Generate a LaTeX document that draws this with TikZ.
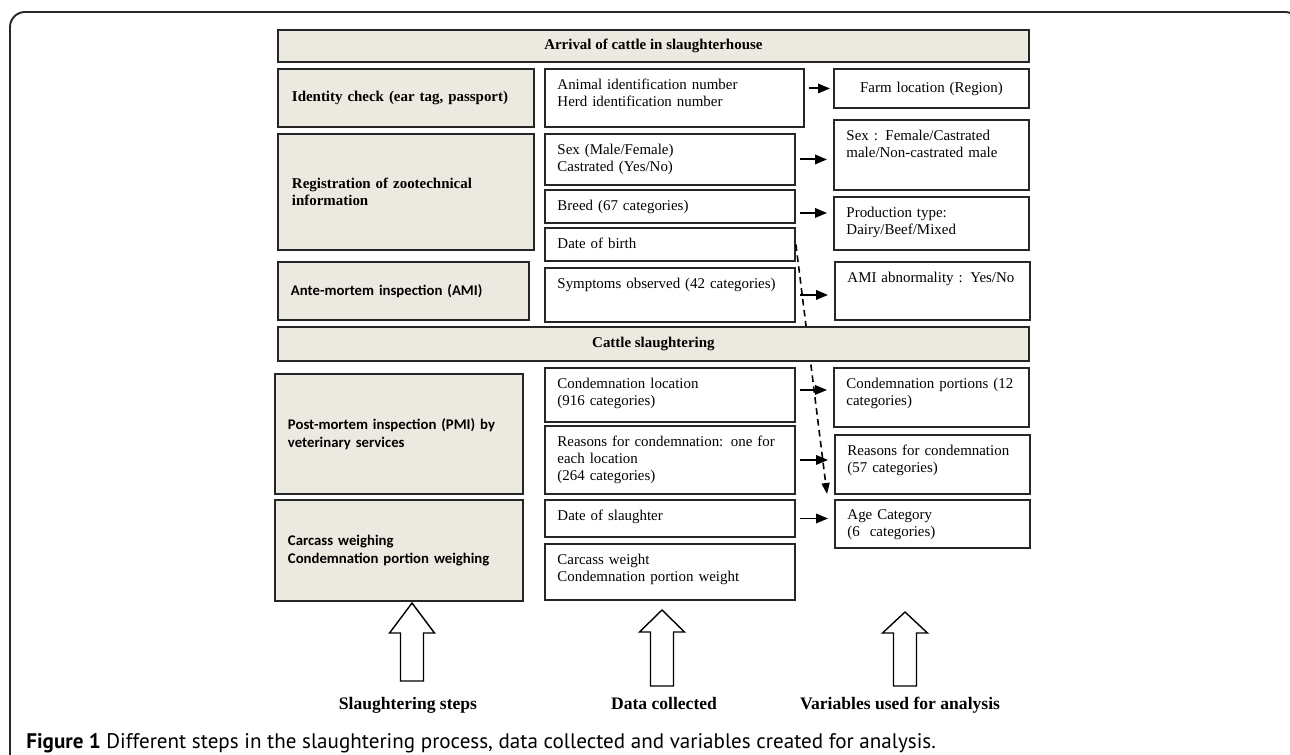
\documentclass[tikz,border=0pt]{standalone}
\usepackage{fontspec}
\setmainfont{Liberation Serif}
\setsansfont{Carlito}
\newfontfamily\capfont{PT Sans}
\usetikzlibrary{arrows.meta}

\definecolor{stepfill}{RGB}{236,234,224}
\definecolor{framegray}{RGB}{40,40,40}

% text starting at the top of a box of fixed height
\newcommand{\boxtext}[2]{\parbox[c][#1][t]{\linewidth}{\vspace*{0.2cm}#2}}

\tikzset{
  stepbox/.style={draw=black!85, line width=1.1pt, fill=stepfill, anchor=north west, align=left,
    inner xsep=0.28cm, inner ysep=0pt, font=\bfseries\fontsize{8.5}{10}\selectfont},
  stepbar/.style={stepbox, align=center, minimum width=15.02cm},
  stepsans/.style={stepbox, inner xsep=0.26cm, font=\sffamily\bfseries\fontsize{8.4}{10.2}\selectfont},
  databox/.style={draw=black!85, line width=1.1pt, anchor=north west, align=left,
    inner xsep=0.25cm, inner ysep=0pt, text width=4.5cm},
  varbox/.style={databox, text width=3.4cm},
  arr/.style={-{Triangle[length=0.24cm, width=0.19cm]}, line width=1.1pt,
    shorten <=0.08cm, shorten >=0.12cm},
  dasharr/.style={-{Triangle[length=0.22cm, width=0.16cm]}, line width=0.9pt,
    dash pattern=on 0.13cm off 0.09cm},
  hollow/.style={draw, line width=0.8pt, fill=white},
  legend/.style={anchor=base, font=\bfseries\fontsize{10}{12}\selectfont}
}

\begin{document}
\begin{tikzpicture}[x=0.02cm, y=-0.02cm, every node/.style={font=\fontsize{8.5}{9.7}\selectfont}]
  \useasboundingbox (0,0) rectangle (1290,754);
  \clip (0,0) rectangle (1290,754);
  \draw[framegray, line width=1.1pt, rounded corners=0.3cm] (10,780) -- (10,12) -- (1300,12) -- (1300,780);

  % slaughtering steps
  \node[stepbar, minimum height=0.64cm] (arrive) at (277,29) {Arrival of cattle in slaughterhouse};
  \node[stepbox, text width=4.56cm, minimum height=1.16cm] (ident) at (277,68) {Identity check (ear tag, passport)};
  \node[stepbox, text width=4.56cm, minimum height=2.32cm] (regist) at (277,133) {Registration of zootechnical\\information};
  \node[stepsans, text width=4.5cm, minimum height=1.16cm] (ami) at (277,261) {Ante-mortem inspection (AMI)};
  \node[stepsans, text width=4.44cm, minimum height=2.4cm] (pmi) at (274,373) {Post-mortem inspection (PMI) by\\veterinary services};
  \node[stepsans, text width=4.44cm, minimum height=2.02cm] (weigh) at (274,499) {Carcass weighing\\Condemnation portion weighing};

  % data collected
  \node[databox, text width=4.68cm] (animal) at (544,68) {\boxtext{1.16cm}{Animal identification number\\Herd identification number}};
  \node[databox] (sexdata) at (544,133) {\boxtext{1.02cm}{Sex (Male/Female)\\Castrated (Yes/No)}};
  \node[databox] (breed) at (544,189) {\boxtext{0.66cm}{Breed (67 categories)}};
  \node[databox] (dob) at (544,227) {\boxtext{0.66cm}{Date of birth}};
  \node[databox] (symp) at (544,267) {\boxtext{1.08cm}{Symptoms observed (42 categories)}};
  \node[databox] (condloc) at (544,367) {\boxtext{1.08cm}{Condemnation location\\(916 categories)}};
  \node[databox] (reason) at (544,425) {\boxtext{1.36cm}{Reasons for condemnation: one for\\each location\\(264 categories)}};
  \node[databox] (slaughterdate) at (544,499) {\boxtext{0.74cm}{Date of slaughter}};
  \node[databox] (weight) at (544,543) {\boxtext{1.12cm}{Carcass weight\\Condemnation portion weight}};

  % variables used for analysis
  \node[varbox, align=center, minimum height=0.78cm] (farm) at (833,68) {Farm location (Region)};
  \node[varbox] (sexvar) at (833,119) {\boxtext{1.4cm}{Sex : Female/Castrated\\male/Non-castrated male}};
  \node[varbox] (prod) at (833,196) {\boxtext{1.06cm}{Production type:\\Dairy/Beef/Mixed}};
  \node[varbox] (amiabn) at (834,261) {\boxtext{1.16cm}{AMI abnormality : Yes/No}};
  \node[varbox] (portions) at (833,367) {\boxtext{1.18cm}{Condemnation portions (12\\categories)}};
  \node[varbox] (reasonvar) at (834,434) {\boxtext{1.18cm}{Reasons for condemnation\\(57 categories)}};
  \node[varbox] (age) at (834,499) {\boxtext{0.96cm}{Age Category\\(6~ categories)}};

  % age from date of birth, behind the slaughtering bar
  \coordinate (ageend) at (827,494);
  \draw[dasharr] (dob.east) -- (ageend);

  \node[stepbar, minimum height=0.68cm] (cattle) at (277,326) {Cattle slaughtering};

  \coordinate (breedout) at ([yshift=-0.13cm]breed.east);
  \coordinate (condout) at ([yshift=0.1cm]condloc.east);
  \draw[arr, shorten >=0.06cm] (animal.east |- farm.west) -- (farm.west);
  \draw[arr] (sexdata.east) -- (sexdata.east -| sexvar.west);
  \draw[arr] (breedout) -- (breedout -| prod.west);
  \draw[arr] (symp.east) -- (symp.east -| amiabn.west);
  \draw[arr] (condout) -- (condout -| portions.west);
  \draw[arr] (reason.east) -- (reason.east -| reasonvar.west);
  \draw[arr] (slaughterdate.east) -- (slaughterdate.east -| age.west);

  % big hollow arrows
  \foreach \x/\t/\b/\e in {412/603/633/681, 662/610/632/686, 905/612/633/686}
    \draw[hollow] (\x-11.5,\e) -- (\x-11.5,\b) -- (\x-22.5,\b) -- (\x,\t) -- (\x+22.5,\b) -- (\x+11.5,\b) -- (\x+11.5,\e) -- cycle;

  \node[legend] (stepslbl) at (408,709) {Slaughtering steps};
  \node[legend] (datalbl) at (664,709) {Data collected};
  \node[legend] (varlbl) at (900,709) {Variables used for analysis};

  \node[anchor=base west, inner sep=0pt, font=\capfont\fontsize{12}{14}\selectfont] (caption) at (26,748)
    {\textbf{Figure 1} Different steps in the slaughtering process, data collected and variables created for analysis.};
\end{tikzpicture}
\end{document}
